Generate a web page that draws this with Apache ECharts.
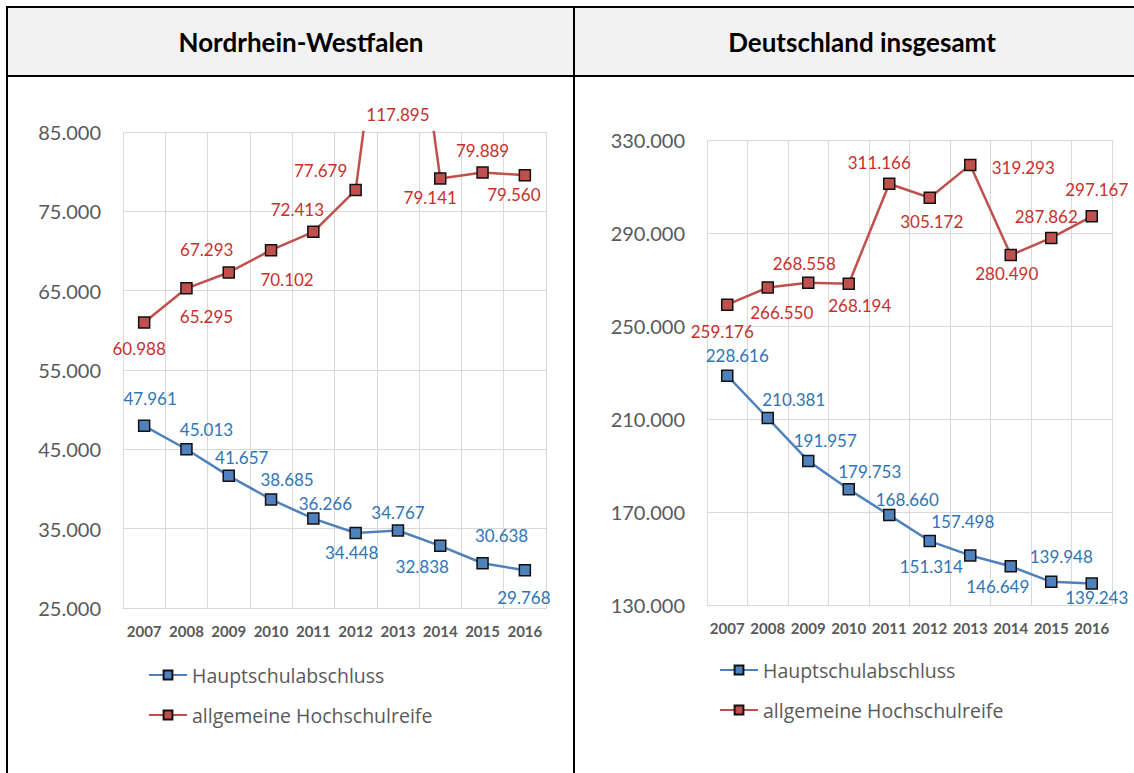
<!DOCTYPE html>
<html>
<head>
<meta charset="utf-8">
<script src="https://cdn.jsdelivr.net/npm/echarts@6/dist/echarts.min.js"></script>
<style>
html,body{margin:0;padding:0;background:#fff;}
#chart{width:1134px;height:773px;}
</style>
</head>
<body>
<div id="chart"></div>
<script>
// ---- data ----
const years = ['2007','2008','2009','2010','2011','2012','2013','2014','2015','2016'];
const seriesNames = ['Hauptschulabschluss', 'allgemeine Hochschulreife'];
const panelTitles = ['Nordrhein-Westfalen', 'Deutschland insgesamt'];

const nrwHaupt = [47961, 45013, 41657, 38685, 36266, 34448, 34767, 32838, 30638, 29768];
const nrwHoch  = [60988, 65295, 67293, 70102, 72413, 77679, 117895, 79141, 79889, 79560];
const deHaupt  = [228616, 210381, 191957, 179753, 168660, 157498, 151314, 146649, 139948, 139243];
const deHoch   = [259176, 266550, 268558, 268194, 311166, 305172, 319293, 280490, 287862, 297167];

const nrwAxis = [25000, 85000, 10000];   // min, max, interval
const deAxis  = [130000, 330000, 40000];

// ---- label placement (style only) ----
const nrwHauptOff = [[6,-27],[20,-20],[13,-18],[16,-20],[12,-15],[-4,19],[0,-18],[-18,21],[19,-28],[-1,27]];
const nrwHochOff  = [[-5,26],[20,28],[-22,-23],[16,29],[-16,-22],[-35,-20],[0,0],[-10,19],[0,-22],[-11,19]];
const deHauptOff  = [[10,-20],[26,-19],[17,-20],[21,-18],[18,-16],[33,-20],[-39,11],[-13,20],[10,-25],[5,14]];
const deHochOff   = [[-5,27],[14,25],[-4,-19],[11,22],[-10,-21],[2,24],[53,3],[-4,18],[-5,-21],[5,-27]];

const FONT = 'Lato, "Open Sans", sans-serif';
const LEG_FONT = '"Open Sans", Lato, sans-serif';
const BLUE = '#4f81bd', RED = '#c0504d';
const BLUE_TXT = '#2e75b6', RED_TXT = '#c8302c';
const GRID = '#d9d9d9', AX_TXT = '#595959';

function fmt(v){ return String(v).replace(/\B(?=(\d{3})+(?!\d))/g, '.'); }

function mkData(vals, offs, max){
  return vals.map((v,i)=>({
    value: v,
    label: { offset: offs[i], show: v <= max }
  }));
}

function mkSeries(name, vals, offs, axisIdx, color, txtColor, max){
  const s = {
    name: name, type: 'line',
    xAxisIndex: axisIdx, yAxisIndex: axisIdx,
    data: mkData(vals, offs, max),
    clip: true,
    symbol: 'rect', symbolSize: 11,
    itemStyle: { color: color, borderColor: '#111', borderWidth: 1.5 },
    lineStyle: { color: color, width: 2.5 },
    label: {
      show: true, position: 'inside',
      formatter: p => fmt(p.value),
      color: txtColor, fontSize: 17, fontFamily: FONT,
      align: 'center', verticalAlign: 'middle'
    },
    emphasis: { disabled: true },
    z: 3
  };
  // values beyond the axis max: show the value at the plot top edge
  const over = vals.map((v,i)=>[v,i]).filter(d => d[0] > max);
  if (over.length) {
    s.markPoint = {
      symbol: 'rect', symbolSize: 0,
      data: over.map(d => ({ coord: [years[d[1]], max], value: d[0] })),
      label: {
        show: true, position: 'inside', offset: [0, -18],
        formatter: p => fmt(p.value),
        color: txtColor, fontSize: 17, fontFamily: FONT
      },
      emphasis: { disabled: true }
    };
  }
  return s;
}

function mkX(gi){
  return {
    type: 'category', gridIndex: gi, data: years, boundaryGap: true,
    axisLine: { show: true, lineStyle: { color: GRID, width: 1 } },
    axisTick: { show: false },
    splitLine: { show: true, lineStyle: { color: GRID, width: 1 } },
    axisLabel: { color: AX_TXT, fontSize: 15, fontWeight: 'bold', fontFamily: FONT, margin: 15, interval: 0 }
  };
}
function mkY(gi, ax){
  return {
    type: 'value', gridIndex: gi, min: ax[0], max: ax[1], interval: ax[2],
    axisLine: { show: false }, axisTick: { show: false },
    splitLine: { show: true, lineStyle: { color: GRID, width: 1 } },
    axisLabel: { color: AX_TXT, fontSize: 20, fontFamily: FONT, margin: 22, formatter: v => fmt(v) }
  };
}

function mkLegend(left, top){
  return {
    orient: 'vertical', left: left, top: top, padding: 0,
    itemWidth: 38, itemHeight: 11, itemGap: 16,
    data: seriesNames,
    textStyle: { color: AX_TXT, fontSize: 19.5, fontFamily: LEG_FONT, lineHeight: 24, padding: [0,0,0,0] },
    selectedMode: false
  };
}

const chart = echarts.init(document.getElementById('chart'), null, { renderer: 'svg' });
chart.setOption({
  animation: false,
  backgroundColor: '#ffffff',
  graphic: [
    { type: 'rect', shape: { x: 8, y: 8, width: 1126, height: 67 }, style: { fill: '#f2f2f2' }, z: -10 },
    { type: 'rect', shape: { x: 6, y: 6, width: 1128, height: 2 }, style: { fill: '#000' }, z: -5 },
    { type: 'rect', shape: { x: 6, y: 75, width: 1128, height: 2 }, style: { fill: '#000' }, z: -5 },
    { type: 'rect', shape: { x: 6, y: 6, width: 2, height: 767 }, style: { fill: '#000' }, z: -5 },
    { type: 'rect', shape: { x: 573, y: 6, width: 2, height: 767 }, style: { fill: '#000' }, z: -5 }
  ],
  title: [
    { text: panelTitles[0], left: 296, top: 22, textAlign: 'center',
      textStyle: { fontFamily: FONT, fontWeight: 'bold', fontSize: 26, color: '#000', lineHeight: 30 } },
    { text: panelTitles[1], left: 857, top: 22, textAlign: 'center',
      textStyle: { fontFamily: FONT, fontWeight: 'bold', fontSize: 26, color: '#000', lineHeight: 30 } }
  ],
  grid: [
    { left: 123, top: 132, width: 423, height: 476 },
    { left: 707, top: 140, width: 405, height: 465 }
  ],
  xAxis: [mkX(0), mkX(1)],
  yAxis: [mkY(0, nrwAxis), mkY(1, deAxis)],
  legend: [mkLegend(148, 663), mkLegend(719, 658)],
  series: [
    mkSeries(seriesNames[0], nrwHaupt, nrwHauptOff, 0, BLUE, BLUE_TXT, nrwAxis[1]),
    mkSeries(seriesNames[1], nrwHoch, nrwHochOff, 0, RED, RED_TXT, nrwAxis[1]),
    mkSeries(seriesNames[0], deHaupt, deHauptOff, 1, BLUE, BLUE_TXT, deAxis[1]),
    mkSeries(seriesNames[1], deHoch, deHochOff, 1, RED, RED_TXT, deAxis[1])
  ]
});
</script>
</body>
</html>
